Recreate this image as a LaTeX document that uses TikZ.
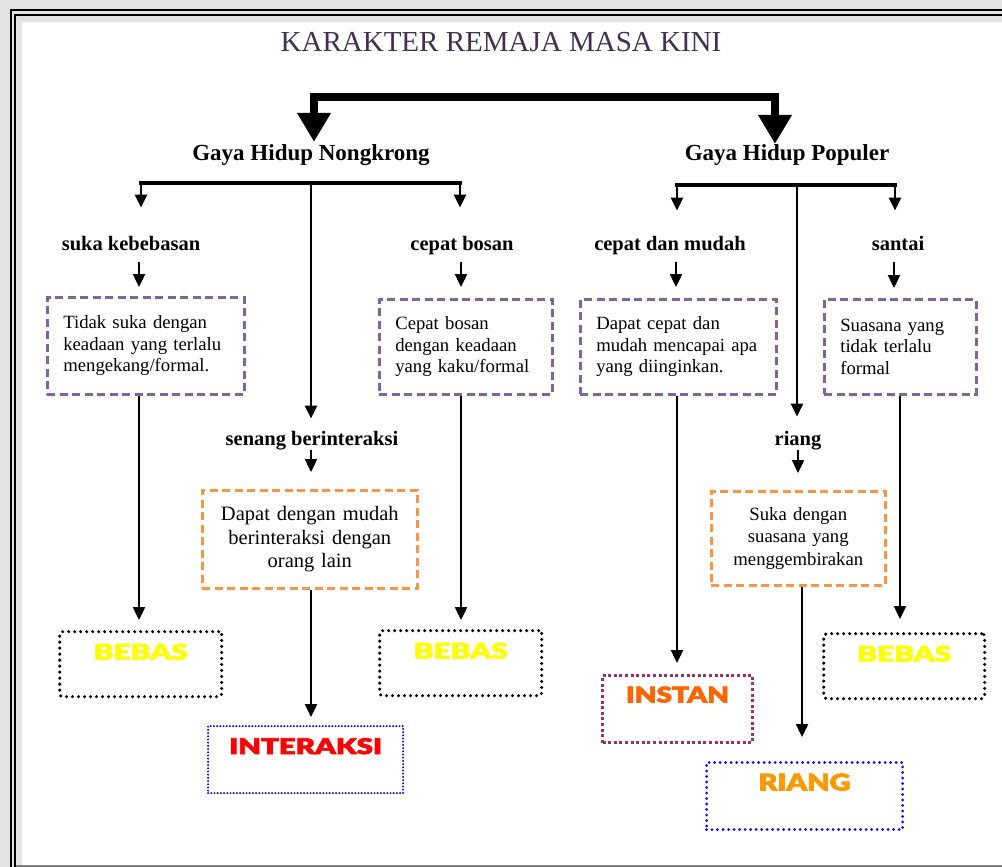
\documentclass[tikz,border=0pt]{standalone}
\usepackage{fontspec}
\setmainfont{Liberation Serif}
\newfontfamily\heavyfont{Lato Black}[FakeBold=2.5]
\usetikzlibrary{arrows.meta}
\definecolor{titlec}{HTML}{3F3151}
\definecolor{purp}{HTML}{8064A2}
\definecolor{orng}{HTML}{F79646}
\definecolor{maroonx}{HTML}{993366}
\definecolor{bebasY}{HTML}{FFFF00}
\definecolor{riangO}{HTML}{FF9900}
\definecolor{instanO}{HTML}{FF6600}
\definecolor{interR}{HTML}{FF0000}
\definecolor{bluex}{HTML}{0000FF}
\tikzset{
  head/.style={font=\bfseries\fontsize{23}{27}\selectfont, inner sep=0pt, anchor=base},
  lab/.style={font=\bfseries\fontsize{20.5}{24}\selectfont, inner sep=0pt, anchor=base},
  pbox/.style={draw=purp, line width=2.6pt, dash pattern=on 8pt off 4.5pt,
    font=\fontsize{18.7}{21.5}\selectfont, align=left, inner xsep=16pt, inner ysep=0pt,
    anchor=north west},
  obox/.style={draw=orng, line width=2.6pt, dash pattern=on 8pt off 4.5pt,
    align=center, inner xsep=4pt, inner ysep=0pt, anchor=north west},
  dbox/.style={inner ysep=0pt, text height=28pt, anchor=north west, inner xsep=0pt},
  blackdots/.style={dbox, draw=black, line width=3.4pt, line cap=round, dash pattern=on 0pt off 6pt, rounded corners=3pt},
  bluedotsA/.style={dbox, draw=bluex, line width=2.2pt, line cap=round, dash pattern=on 0pt off 3.2pt},
  bluedotsB/.style={dbox, draw=bluex, line width=3pt, line cap=round, dash pattern=on 0pt off 5.5pt},
  instbox/.style={dbox, draw=maroonx, line width=3pt, dash pattern=on 3pt off 2.6pt},
  arr/.style={line width=2.4pt, -{Triangle[width=12pt,length=13pt]}},
  bar/.style={line width=4pt, line cap=rect},
  bigarr/.style={line width=8pt, line join=miter, {Triangle[width=32pt,length=29pt]}-{Triangle[width=32pt,length=29pt]}}
}
\begin{document}
\begin{tikzpicture}[x=1pt,y=-1pt]
\useasboundingbox (0,0) rectangle (1002,867);
% frame
\fill[gray!22] (0,0) rectangle (1002,867);
\fill[white] (22,22) rectangle (1002,865);
\draw[line width=2pt] (11,867) -- (11,10.5) -- (1002,10.5);
\draw[line width=2pt] (15,867) -- (15,15) -- (1002,15);
\draw[gray, line width=1.5pt] (16,866) -- (1002,866);

% title
\node[font=\fontsize{29}{34}\selectfont, text=titlec, inner sep=0pt, anchor=base] (title) at (501,52) {KARAKTER REMAJA MASA KINI};

% headings
\node[head] (nk) at (311,160) {Gaya Hidup Nongkrong};
\node[head] (gp) at (787,160) {Gaya Hidup Populer};

% level-2 labels
\node[lab] (sk) at (131,250) {suka kebebasan};
\node[lab] (cb) at (462,250) {cepat bosan};
\node[lab] (cm) at (670,250) {cepat dan mudah};
\node[lab] (st) at (898,250) {santai};
\node[lab] (sb) at (312,445) {senang berinteraksi};
\node[lab] (ri) at (798,445) {riang};

% purple boxes
\node[pbox, text width=165pt, minimum height=97pt] (A) at (46,296) {\raisebox{4pt}{\parbox{165pt}{\raggedright Tidak suka dengan\\keadaan yang terlalu\\mengekang/formal.}}};
\node[pbox, text width=141pt, minimum height=95pt] (B) at (378,298) {\raisebox{3pt}{\parbox{141pt}{\raggedright Cepat bosan\\dengan keadaan\\yang kaku/formal}}};
\node[pbox, text width=164pt, minimum height=95pt] (C) at (579,298) {\raisebox{3pt}{\parbox{164pt}{\raggedright Dapat cepat dan\\mudah mencapai apa\\yang diinginkan.}}};
\node[pbox, text width=120pt, minimum height=95pt] (D) at (823,298) {\raisebox{3pt}{\parbox{120pt}{\raggedright Suasana yang\\tidak terlalu\\formal}}};

% orange boxes
\node[obox, font=\fontsize{20.5}{23.5}\selectfont, text width=207pt, minimum height=98pt] (E) at (201,489) {\raisebox{3pt}{\parbox{207pt}{\centering Dapat dengan mudah\\berinteraksi dengan\\orang lain}}};
\node[obox, font=\fontsize{18.7}{22.5}\selectfont, text width=166pt, minimum height=94pt] (F) at (710,490) {\raisebox{2pt}{\parbox{166pt}{\centering Suka dengan\\suasana yang\\menggembirakan}}};

% result boxes
\node[blackdots, minimum width=162pt, text depth=37pt] (G) at (58,630) {\textcolor{bebasY}{\resizebox{94pt}{16pt}{\heavyfont BEBAS}}};
\node[blackdots, minimum width=162pt, text depth=37pt] (H) at (378,629) {\textcolor{bebasY}{\resizebox{94pt}{16pt}{\heavyfont BEBAS}}};
\node[blackdots, minimum width=161pt, text depth=37pt] (I) at (822,632) {\textcolor{bebasY}{\resizebox{94pt}{16pt}{\heavyfont BEBAS}}};
\node[bluedotsA, minimum width=195pt, text depth=39pt] (J) at (207,725) {\textcolor{interR}{\resizebox{153pt}{16pt}{\heavyfont INTERAKSI}}};
\node[instbox, minimum width=150pt, text height=27pt, text depth=40pt] (K) at (601,674) {\textcolor{instanO}{\resizebox{103pt}{16pt}{\heavyfont INSTAN}}};
\node[bluedotsB, minimum width=196pt, text height=28pt, text depth=39pt] (L) at (705,761) {\textcolor{riangO}{\resizebox{92pt}{17pt}{\heavyfont RIANG}}};

% top bracket
\coordinate (tl) at (314,97);
\coordinate (tr) at (775,97);
\draw[bigarr, shorten <=1pt, shorten >=1pt] (tl |- nk.north) ++(0,-1) -- (tl) -- (tr) -- ([yshift=-1pt]tr |- gp.north);

% left bracket
\coordinate (l1) at (141,183);
\coordinate (l2) at (311,183);
\coordinate (l3) at (460,183);
\draw[bar] (l1) -- (l3);
\draw[arr, shorten >=28pt] (l1) -- (l1 |- sk.north);
\draw[arr, shorten >=28pt] (l3) -- (l3 |- cb.north);
\draw[arr, shorten >=12pt] (l2) -- (l2 |- sb.north);

% right bracket
\coordinate (r1) at (677,185);
\coordinate (r2) at (797,185);
\coordinate (r3) at (895,185);
\draw[bar] (r1) -- (r3);
\draw[arr, shorten >=25pt] (r1) -- (r1 |- cm.north);
\draw[arr, shorten >=25pt] (r3) -- (r3 |- st.north);
\draw[arr, shorten >=14pt] (r2) -- (r2 |- ri.north);

% labels to boxes
\coordinate (xa) at (139,0);
\coordinate (xb) at (461,0);
\coordinate (xc) at (676,0);
\coordinate (xd) at (894,0);
\coordinate (xe) at (311,0);
\coordinate (xf) at (798,0);
\draw[arr, shorten <=12pt, shorten >=9pt] (xa |- sk.base) -- (xa |- A.north);
\draw[arr, shorten <=12pt, shorten >=11pt] (xb |- cb.base) -- (xb |- B.north);
\draw[arr, shorten <=12pt, shorten >=11pt] (xc |- cm.base) -- (xc |- C.north);
\draw[arr, shorten <=12pt, shorten >=10pt] (xd |- st.base) -- (xd |- D.north);
\draw[arr, shorten <=5pt, shorten >=17pt] (xe |- sb.base) -- (xe |- E.north);
\draw[arr, shorten <=5pt, shorten >=17pt] (xf |- ri.base) -- (xf |- F.north);

% boxes to results
\coordinate (ya) at (139,0);
\coordinate (yb) at (461,0);
\coordinate (yc) at (677,0);
\coordinate (yd) at (900,0);
\coordinate (ye) at (311,0);
\coordinate (yf) at (802,0);
\draw[arr, shorten >=10pt] (ya |- A.south) -- (ya |- G.north);
\draw[arr, shorten >=9pt] (yb |- B.south) -- (yb |- H.north);
\draw[arr, shorten >=11pt] (yc |- C.south) -- (yc |- K.north);
\draw[arr, shorten >=13pt] (yd |- D.south) -- (yd |- I.north);
\draw[arr, shorten >=8pt] (ye |- E.south) -- (ye |- J.north);
\draw[arr, shorten >=24pt] (yf |- F.south) -- (yf |- L.north);
\end{tikzpicture}
\end{document}
